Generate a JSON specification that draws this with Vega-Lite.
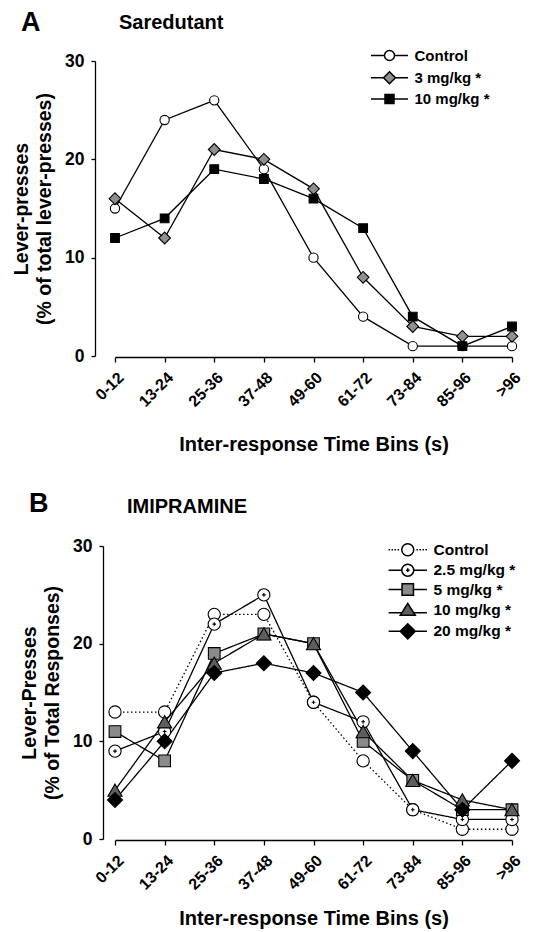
{
  "$schema": "https://vega.github.io/schema/vega-lite/v6.json",
  "background": "white",
  "padding": {"left": 11, "top": 9, "right": 5, "bottom": 5},
  "spacing": 35,
  "resolve": {"scale": {"shape": "independent", "fill": "independent"}},
  "config": {
    "font": "Liberation Sans",
    "view": {"stroke": null},
    "axis": {
      "labelFont": "Liberation Sans", "labelFontWeight": "bold", "labelColor": "black",
      "titleFont": "Liberation Sans", "titleFontWeight": "bold", "titleColor": "black",
      "domainColor": "black", "tickColor": "black", "domainWidth": 1.3, "tickWidth": 1.3, "grid": false
    },
    "legend": {"labelFont": "Liberation Sans", "labelFontWeight": "bold", "labelColor": "black"},
    "title": {"font": "Liberation Sans", "fontWeight": "bold", "color": "black"}
  },
  "datasets": {
    "a": [
      {"bin": "0-12", "series": "Control", "value": 15},
      {"bin": "13-24", "series": "Control", "value": 24},
      {"bin": "25-36", "series": "Control", "value": 26},
      {"bin": "37-48", "series": "Control", "value": 19},
      {"bin": "49-60", "series": "Control", "value": 10},
      {"bin": "61-72", "series": "Control", "value": 4},
      {"bin": "73-84", "series": "Control", "value": 1},
      {"bin": "85-96", "series": "Control", "value": 1},
      {"bin": ">96", "series": "Control", "value": 1},
      {"bin": "0-12", "series": "3 mg/kg *", "value": 16},
      {"bin": "13-24", "series": "3 mg/kg *", "value": 12},
      {"bin": "25-36", "series": "3 mg/kg *", "value": 21},
      {"bin": "37-48", "series": "3 mg/kg *", "value": 20},
      {"bin": "49-60", "series": "3 mg/kg *", "value": 17},
      {"bin": "61-72", "series": "3 mg/kg *", "value": 8},
      {"bin": "73-84", "series": "3 mg/kg *", "value": 3},
      {"bin": "85-96", "series": "3 mg/kg *", "value": 2},
      {"bin": ">96", "series": "3 mg/kg *", "value": 2},
      {"bin": "0-12", "series": "10 mg/kg *", "value": 12},
      {"bin": "13-24", "series": "10 mg/kg *", "value": 14},
      {"bin": "25-36", "series": "10 mg/kg *", "value": 19},
      {"bin": "37-48", "series": "10 mg/kg *", "value": 18},
      {"bin": "49-60", "series": "10 mg/kg *", "value": 16},
      {"bin": "61-72", "series": "10 mg/kg *", "value": 13},
      {"bin": "73-84", "series": "10 mg/kg *", "value": 4},
      {"bin": "85-96", "series": "10 mg/kg *", "value": 1},
      {"bin": ">96", "series": "10 mg/kg *", "value": 3}
    ],
    "b": [
      {"bin": "0-12", "series": "Control", "value": 13},
      {"bin": "13-24", "series": "Control", "value": 13},
      {"bin": "25-36", "series": "Control", "value": 23},
      {"bin": "37-48", "series": "Control", "value": 23},
      {"bin": "49-60", "series": "Control", "value": 14},
      {"bin": "61-72", "series": "Control", "value": 8},
      {"bin": "73-84", "series": "Control", "value": 3},
      {"bin": "85-96", "series": "Control", "value": 1},
      {"bin": ">96", "series": "Control", "value": 1},
      {"bin": "0-12", "series": "2.5 mg/kg *", "value": 9},
      {"bin": "13-24", "series": "2.5 mg/kg *", "value": 11},
      {"bin": "25-36", "series": "2.5 mg/kg *", "value": 22},
      {"bin": "37-48", "series": "2.5 mg/kg *", "value": 25},
      {"bin": "49-60", "series": "2.5 mg/kg *", "value": 14},
      {"bin": "61-72", "series": "2.5 mg/kg *", "value": 12},
      {"bin": "73-84", "series": "2.5 mg/kg *", "value": 3},
      {"bin": "85-96", "series": "2.5 mg/kg *", "value": 2},
      {"bin": ">96", "series": "2.5 mg/kg *", "value": 2},
      {"bin": "0-12", "series": "5 mg/kg *", "value": 11},
      {"bin": "13-24", "series": "5 mg/kg *", "value": 8},
      {"bin": "25-36", "series": "5 mg/kg *", "value": 19},
      {"bin": "37-48", "series": "5 mg/kg *", "value": 21},
      {"bin": "49-60", "series": "5 mg/kg *", "value": 20},
      {"bin": "61-72", "series": "5 mg/kg *", "value": 10},
      {"bin": "73-84", "series": "5 mg/kg *", "value": 6},
      {"bin": "85-96", "series": "5 mg/kg *", "value": 3},
      {"bin": ">96", "series": "5 mg/kg *", "value": 3},
      {"bin": "0-12", "series": "10 mg/kg *", "value": 5},
      {"bin": "13-24", "series": "10 mg/kg *", "value": 12},
      {"bin": "25-36", "series": "10 mg/kg *", "value": 18},
      {"bin": "37-48", "series": "10 mg/kg *", "value": 21},
      {"bin": "49-60", "series": "10 mg/kg *", "value": 20},
      {"bin": "61-72", "series": "10 mg/kg *", "value": 11},
      {"bin": "73-84", "series": "10 mg/kg *", "value": 6},
      {"bin": "85-96", "series": "10 mg/kg *", "value": 4},
      {"bin": ">96", "series": "10 mg/kg *", "value": 3},
      {"bin": "0-12", "series": "20 mg/kg *", "value": 4},
      {"bin": "13-24", "series": "20 mg/kg *", "value": 10},
      {"bin": "25-36", "series": "20 mg/kg *", "value": 17},
      {"bin": "37-48", "series": "20 mg/kg *", "value": 18},
      {"bin": "49-60", "series": "20 mg/kg *", "value": 17},
      {"bin": "61-72", "series": "20 mg/kg *", "value": 15},
      {"bin": "73-84", "series": "20 mg/kg *", "value": 9},
      {"bin": "85-96", "series": "20 mg/kg *", "value": 3},
      {"bin": ">96", "series": "20 mg/kg *", "value": 8}
    ]
  },
  "vconcat": [
    {
      "title": {"text": "A", "anchor": "start", "frame": "bounds", "fontSize": 27, "dx": 10, "dy": 24, "offset": 0},
      "vconcat": [
        {
          "data": {"name": "a"},
          "title": {"text": "Saredutant", "anchor": "start", "frame": "group", "fontSize": 20, "dx": 4, "offset": 15},
          "width": 397,
          "height": 295,
          "resolve": {"scale": {"shape": "independent", "fill": "independent"}},
          "layer": [
            {
              "mark": {"type": "line", "stroke": "black", "strokeWidth": 1.3},
              "encoding": {
                "x": {"field": "bin", "type": "ordinal", "scale": {"type": "point", "padding": 0, "domain": ["0-12", "13-24", "25-36", "37-48", "49-60", "61-72", "73-84", "85-96", ">96"]},
                  "axis": {"title": "Inter-response Time Bins (s)", "labelAngle": -45, "labelFontSize": 16, "titleFontSize": 20, "offset": 1, "tickSize": 5, "labelPadding": 7, "titlePadding": 25}},
                "y": {"field": "value", "type": "quantitative", "scale": {"domain": [0, 30], "nice": false},
                  "axis": {"values": [0, 10, 20, 30], "offset": 20, "tickSize": 4, "labelFontSize": 17.5, "labelPadding": 7, "title": ["Lever-presses", "(% of total lever-presses)"], "titleFontSize": 19.5, "titleLineHeight": 23, "titlePadding": 10.5}},
                "detail": {"field": "series"}
              }
            },
            {
              "mark": {"type": "point", "filled": true, "stroke": "black", "strokeWidth": 1.1, "opacity": 1},
              "encoding": {
                "x": {"field": "bin", "type": "ordinal"},
                "y": {"field": "value", "type": "quantitative"},
                "shape": {"field": "series", "type": "nominal", "scale": {"domain": ["Control", "3 mg/kg *", "10 mg/kg *"], "range": ["circle", "diamond", "square"]}, "legend": null},
                "fill": {"field": "series", "type": "nominal", "scale": {"domain": ["Control", "3 mg/kg *", "10 mg/kg *"], "range": ["white", "#8f8f8f", "black"]}, "legend": null},
                "size": {"condition": [{"test": "datum.series === '3 mg/kg *'", "value": 137}, {"test": "datum.series === '10 mg/kg *'", "value": 76}], "value": 86}
              }
            },
            {
              "transform": [{"filter": "datum.value < 0"}],
              "mark": {"type": "point", "filled": true, "stroke": "black", "strokeWidth": 1.2, "opacity": 1},
              "encoding": {
                "x": {"field": "bin", "type": "ordinal"},
                "y": {"field": "value", "type": "quantitative"},
                "shape": {"field": "series", "type": "nominal",
                  "scale": {"domain": ["Control", "3 mg/kg *", "10 mg/kg *"], "range": ["M-3.7,0H-1M1,0H3.7M1,0A1,1 0 1,1 -1,0A1,1 0 1,1 1,0Z", "M-3.7,0H-1.2M1.2,0H3.7M0,-1.2L1.2,0L0,1.2L-1.2,0Z", "M-3.7,0H-0.9M0.9,0H3.7M-0.9,-0.9H0.9V0.9H-0.9Z"]},
                  "legend": {"title": null, "orient": "none", "legendX": 267, "legendY": -13, "padding": 0, "labelFontSize": 15, "labelOffset": 17.5, "rowPadding": 4.2, "symbolSize": 100,
                    "encode": {"symbols": {"stroke": {"value": "black"}, "strokeWidth": {"value": 1.2}}}}},
                "fill": {"field": "series", "type": "nominal",
                  "scale": {"domain": ["Control", "3 mg/kg *", "10 mg/kg *"], "range": ["white", "#8f8f8f", "black"]},
                  "legend": {"title": null, "orient": "none", "legendX": 267, "legendY": -13, "padding": 0, "labelFontSize": 15, "labelOffset": 17.5, "rowPadding": 4.2, "symbolSize": 100,
                    "encode": {"symbols": {"stroke": {"value": "black"}, "strokeWidth": {"value": 1.2}}}}}
              }
            }
          ]
        }
      ]
    },
    {
      "title": {"text": "B", "anchor": "start", "frame": "bounds", "fontSize": 27, "dx": 10, "dy": 21, "offset": 0},
      "vconcat": [
        {
          "data": {"name": "b"},
          "title": {"text": "IMIPRAMINE", "anchor": "start", "frame": "group", "fontSize": 20, "dx": 12, "offset": 20},
          "width": 397,
          "height": 293,
          "resolve": {"scale": {"shape": "independent", "fill": "independent"}},
          "layer": [
            {
              "mark": {"type": "line", "stroke": "black", "strokeWidth": 1.3},
              "encoding": {
                "x": {"field": "bin", "type": "ordinal", "scale": {"type": "point", "padding": 0, "domain": ["0-12", "13-24", "25-36", "37-48", "49-60", "61-72", "73-84", "85-96", ">96"]},
                  "axis": {"title": "Inter-response Time Bins (s)", "labelAngle": -45, "labelFontSize": 16, "titleFontSize": 20, "offset": 1, "tickSize": 5, "labelPadding": 7, "titlePadding": 16}},
                "y": {"field": "value", "type": "quantitative", "scale": {"domain": [0, 30], "nice": false},
                  "axis": {"values": [0, 10, 20, 30], "offset": 12, "tickSize": 4, "labelFontSize": 17.5, "labelPadding": 7, "title": ["Lever-Presses", "(% of Total Responses)"], "titleFontSize": 19.5, "titleLineHeight": 23, "titlePadding": 10.5}},
                "detail": {"field": "series"},
                "strokeDash": {"condition": {"test": "datum.series === 'Control'", "value": [1.5, 2.5]}, "value": [1, 0]}
              }
            },
            {
              "mark": {"type": "point", "filled": true, "stroke": "black", "strokeWidth": 1.1, "opacity": 1},
              "encoding": {
                "x": {"field": "bin", "type": "ordinal"},
                "y": {"field": "value", "type": "quantitative"},
                "shape": {"field": "series", "type": "nominal", "scale": {"domain": ["Control", "2.5 mg/kg *", "5 mg/kg *", "10 mg/kg *", "20 mg/kg *"], "range": ["circle", "M1,0A1,1 0 1,1 -1,0A1,1 0 1,1 1,0ZM-0.3,0H0.3M0,-0.3V0.3", "square", "triangle-up", "diamond"]}, "legend": null},
                "fill": {"field": "series", "type": "nominal", "scale": {"domain": ["Control", "2.5 mg/kg *", "5 mg/kg *", "10 mg/kg *", "20 mg/kg *"], "range": ["white", "white", "#8a8a8a", "#5e5e5e", "black"]}, "legend": null},
                "size": {"condition": [{"test": "datum.series === '20 mg/kg *'", "value": 225}, {"test": "datum.series === '10 mg/kg *'", "value": 200}, {"test": "datum.series === '5 mg/kg *'", "value": 137}], "value": 150}
              }
            },
            {
              "transform": [{"filter": "datum.value < 0"}],
              "mark": {"type": "point", "filled": true, "stroke": "black", "strokeWidth": 1.2, "opacity": 1},
              "encoding": {
                "x": {"field": "bin", "type": "ordinal"},
                "y": {"field": "value", "type": "quantitative"},
                "shape": {"field": "series", "type": "nominal",
                  "scale": {"domain": ["Control", "2.5 mg/kg *", "5 mg/kg *", "10 mg/kg *", "20 mg/kg *"], "range": ["M-3.2,0H-2.95M-2.7,0H-2.45M-2.2,0H-1.95M-1.7,0H-1.45M1.45,0H1.7M1.95,0H2.2M2.45,0H2.7M2.95,0H3.2M1,0A1,1 0 1,1 -1,0A1,1 0 1,1 1,0Z", "M-3.2,0H-1M1,0H3.2M1,0A1,1 0 1,1 -1,0A1,1 0 1,1 1,0ZM-0.3,0H0.3M0,-0.3V0.3", "M-3.2,0H-0.95M0.95,0H3.2M-0.95,-0.95H0.95V0.95H-0.95Z", "M-3.2,0.45H-0.97M0.97,0.45H3.2M0,-1.1L1.25,0.9H-1.25Z", "M-3.2,0H-1.25M1.25,0H3.2M0,-1.25L1.25,0L0,1.25L-1.25,0Z"]},
                  "legend": {"title": null, "orient": "none", "legendX": 285, "legendY": -4, "padding": 0, "labelFontSize": 15.5, "labelOffset": 18, "rowPadding": 1.4, "symbolSize": 144,
                    "encode": {"symbols": {"stroke": {"value": "black"}, "strokeWidth": {"value": 1.2}}}}},
                "fill": {"field": "series", "type": "nominal",
                  "scale": {"domain": ["Control", "2.5 mg/kg *", "5 mg/kg *", "10 mg/kg *", "20 mg/kg *"], "range": ["white", "white", "#8a8a8a", "#5e5e5e", "black"]},
                  "legend": {"title": null, "orient": "none", "legendX": 285, "legendY": -4, "padding": 0, "labelFontSize": 15.5, "labelOffset": 18, "rowPadding": 1.4, "symbolSize": 144,
                    "encode": {"symbols": {"stroke": {"value": "black"}, "strokeWidth": {"value": 1.2}}}}}
              }
            }
          ]
        }
      ]
    }
  ]
}
